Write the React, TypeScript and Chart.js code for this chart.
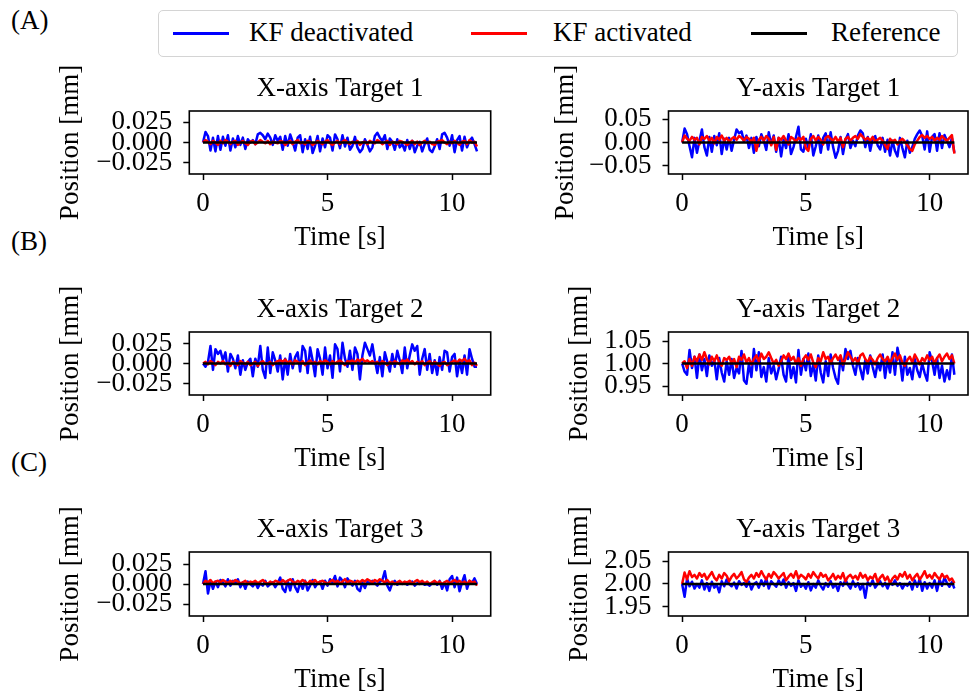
import React, { useEffect, useRef } from 'react';
import { Chart, registerables } from 'chart.js';

Chart.register(...registerables);

const FONT_FAMILY = "'Liberation Serif', 'Times New Roman', serif";

// ---- data ----
const sampleCount = 111; // 0 .. 11 s, sampled every 0.1 s
const time = Array.from({ length: sampleCount }, (_, i) => i / 10);
const xTickValues = [0, 5, 10];
const xTickLabels = ['0', '5', '10'];

const refLevels = [0, 0, 0, 1, 0, 2];

const smallTickValues = [-0.025, 0, 0.025];
const smallTickLabels = ['\u22120.025', '0.000', '0.025'];
const y1TickValues = [-0.05, 0, 0.05];
const y1TickLabels = ['\u22120.05', '0.00', '0.05'];
const y2TickValues = [0.95, 1.0, 1.05];
const y2TickLabels = ['0.95', '1.00', '1.05'];
const y3TickValues = [1.95, 2.0, 2.05];
const y3TickLabels = ['1.95', '2.00', '2.05'];

const x1Blue = [
  0.000, 0.013, 0.008, -0.010, 0.006, -0.011, 0.008, -0.009, 0.007, -0.004,
  0.009, -0.010, 0.005, -0.006, 0.008, -0.003, 0.006, -0.008, 0.004, 0.000,
  0.003, -0.002, 0.010, 0.012, 0.009, 0.004, 0.011, 0.006, -0.003, 0.009,
  0.002, 0.007, -0.009, 0.008, -0.004, 0.010, 0.001, -0.010, 0.006, 0.009,
  -0.012, 0.004, -0.008, 0.007, -0.013, -0.004, 0.008, -0.011, 0.005, -0.006,
  0.009, 0.006, -0.010, 0.010, 0.004, -0.007, 0.009, -0.005, 0.006, -0.009,
  -0.004, 0.007, -0.006, -0.012, -0.008, 0.004, -0.003, -0.011, -0.006, 0.008,
  0.012, 0.006, 0.002, 0.009, -0.008, 0.005, 0.001, -0.009, 0.004, -0.006,
  -0.002, -0.010, 0.003, -0.008, 0.002, -0.012, -0.004, 0.001, -0.011, -0.002,
  0.005, -0.009, -0.012, -0.005, 0.004, -0.008, 0.010, 0.012, 0.006, -0.004,
  0.009, -0.012, 0.003, 0.008, -0.010, 0.007, -0.006, 0.002, 0.006, -0.002,
  -0.011,
];
const x1Red = [
  0.000, 0.003, 0.001, -0.002, 0.002, 0.000, -0.003, 0.002, -0.001, 0.003,
  0.001, -0.002, 0.001, 0.002, -0.003, 0.000, 0.002, -0.001, -0.003, 0.001,
  0.002, -0.002, 0.000, 0.003, 0.001, -0.001, 0.002, -0.002, 0.001, 0.000,
  -0.001, 0.002, 0.001, -0.003, 0.000, 0.002, -0.002, 0.001, 0.003, -0.001,
  0.000, -0.002, 0.002, 0.001, -0.003, -0.001, 0.002, 0.000, -0.002, 0.001,
  0.003, -0.001, -0.003, 0.000, 0.002, -0.002, 0.001, 0.003, 0.000, -0.002,
  0.001, -0.001, 0.002, -0.003, 0.000, 0.001, -0.002, 0.002, 0.000, -0.001,
  0.003, 0.001, -0.002, 0.000, 0.002, -0.003, 0.001, 0.000, -0.002, 0.002,
  0.001, -0.001, -0.003, 0.000, 0.002, -0.002, 0.001, -0.003, 0.000, 0.002,
  -0.001, 0.001, -0.002, -0.003, 0.001, 0.002, 0.003, 0.000, -0.002, 0.001,
  -0.001, 0.002, 0.000, -0.003, 0.001, 0.002, -0.002, 0.003, 0.000, 0.001,
  -0.005,
];

const y1Blue = [
  0.000, 0.030, 0.018, -0.008, -0.032, 0.010, -0.022, 0.004, 0.028, -0.010,
  -0.028, 0.012, -0.020, 0.014, -0.006, 0.020, -0.025, 0.008, -0.015, 0.010,
  -0.018, 0.006, 0.028, 0.020, 0.024, 0.002, 0.015, -0.012, 0.010, -0.022,
  0.012, -0.008, 0.018, 0.004, -0.016, 0.022, -0.004, 0.015, -0.020, 0.010,
  -0.030, 0.006, -0.012, 0.018, -0.025, -0.010, 0.012, 0.034, -0.015, -0.020,
  0.008, -0.012, 0.018, -0.028, -0.008, 0.015, -0.022, 0.010, 0.020, -0.015,
  0.022, -0.010, -0.033, -0.018, 0.012, -0.025, 0.006, 0.018, -0.012, 0.004,
  -0.008, 0.015, 0.026, 0.020, -0.010, 0.012, -0.018, 0.008, 0.014, -0.006,
  -0.015, 0.010, -0.020, 0.006, -0.028, 0.004, -0.018, -0.030, 0.010, -0.012,
  -0.032, 0.004, -0.022, -0.010, 0.008, 0.018, 0.026, 0.014, -0.015, 0.024,
  -0.020, 0.012, 0.018, -0.018, 0.020, -0.012, 0.016, 0.004, -0.010, 0.010,
  -0.022,
];
const y1Red = [
  0.000, 0.015, 0.008, 0.004, 0.012, 0.006, 0.010, -0.004, 0.012, 0.008,
  0.014, 0.004, 0.010, -0.002, 0.012, 0.006, 0.015, 0.004, 0.010, 0.002,
  0.008, 0.012, 0.006, 0.014, 0.010, 0.004, 0.012, 0.008, 0.002, 0.010,
  -0.018, 0.006, 0.012, 0.004, 0.014, 0.008, -0.006, 0.012, -0.016, 0.010,
  0.006, 0.014, 0.004, -0.004, 0.012, 0.008, 0.002, 0.010, 0.006, 0.012,
  -0.012, -0.018, 0.008, 0.014, 0.004, 0.012, 0.006, -0.004, 0.010, 0.014,
  0.008, 0.004, 0.012, 0.002, 0.010, -0.010, 0.008, 0.012, 0.004, 0.010,
  0.014, 0.008, 0.018, 0.012, 0.006, 0.010, 0.004, 0.012, 0.002, 0.006,
  0.010, 0.004, -0.006, -0.014, 0.008, 0.002, 0.006, -0.004, 0.004, 0.008,
  0.002, -0.006, -0.014, -0.018, -0.004, 0.004, 0.012, 0.016, 0.010, 0.014,
  0.008, 0.012, 0.004, 0.010, 0.006, 0.014, 0.008, 0.004, 0.010, 0.016,
  -0.024,
];

const x2Blue = [
  0.000, -0.004, 0.002, 0.022, -0.008, 0.018, 0.012, 0.016, 0.004, 0.014,
  -0.010, 0.012, 0.006, -0.006, 0.010, -0.014, 0.004, -0.008, 0.002, 0.006,
  -0.016, 0.006, -0.004, 0.022, -0.008, -0.018, 0.020, -0.012, 0.014, 0.004,
  -0.010, 0.010, -0.020, 0.006, -0.014, 0.012, -0.006, 0.008, 0.014, -0.010,
  0.022, 0.016, -0.012, 0.020, 0.004, -0.016, 0.018, 0.006, -0.014, 0.020,
  -0.006, 0.010, -0.018, 0.024, 0.018, -0.010, 0.026, 0.006, -0.004, 0.016,
  -0.008, 0.020, 0.012, -0.020, 0.010, 0.026, 0.018, 0.010, 0.024, 0.004,
  -0.012, 0.008, -0.016, 0.014, 0.002, -0.010, 0.012, -0.004, 0.016, 0.004,
  -0.012, 0.020, -0.006, 0.010, 0.024, 0.016, 0.022, -0.014, 0.006, 0.018,
  -0.008, 0.012, -0.012, 0.004, -0.014, 0.008, -0.008, 0.016, 0.014, -0.010,
  0.008, 0.012, -0.016, 0.004, -0.012, 0.010, -0.014, 0.018, 0.006, -0.004,
  -0.004,
];
const x2Red = [
  0.000, 0.002, -0.001, 0.003, 0.001, -0.002, 0.002, 0.000, 0.003, -0.001,
  0.001, -0.003, 0.002, 0.000, -0.002, 0.003, 0.001, -0.001, 0.002, -0.002,
  0.000, 0.002, -0.003, 0.001, 0.003, -0.001, 0.000, 0.002, -0.002, 0.001,
  0.003, 0.004, 0.002, 0.005, 0.001, 0.003, -0.001, 0.004, 0.002, 0.000,
  0.003, -0.002, 0.001, 0.004, 0.000, 0.002, -0.001, 0.003, 0.001, 0.004,
  0.002, -0.001, 0.003, 0.000, 0.002, 0.004, 0.001, -0.002, 0.003, 0.002,
  0.004, 0.001, 0.005, 0.003, 0.006, 0.002, 0.004, 0.001, 0.003, 0.000,
  0.002, -0.001, 0.003, 0.001, -0.002, 0.002, 0.000, 0.003, 0.001, -0.001,
  0.004, 0.002, 0.005, 0.001, 0.003, -0.001, 0.002, 0.000, 0.003, -0.002,
  0.001, 0.003, -0.001, 0.002, 0.000, -0.003, 0.001, 0.002, -0.002, 0.000,
  0.002, 0.004, 0.001, 0.005, 0.003, 0.006, 0.002, 0.004, -0.002, 0.001,
  -0.003,
];

const y2Blue = [
  1.000, 0.982, 0.975, 1.030, 0.990, 1.015, 0.968, 1.020, 0.985, 1.010,
  0.972, 1.018, 0.995, 1.008, 0.965, 1.012, 0.980, 0.960, 1.005, 0.975,
  1.010, 0.968, 0.990, 0.978, 1.028, 0.962, 0.955, 1.000, 0.970, 1.032,
  0.985, 1.025, 0.970, 0.992, 0.960, 1.012, 0.978, 0.995, 0.965, 0.988,
  1.015, 0.975, 0.960, 1.020, 0.968, 0.992, 0.958, 1.030, 0.975, 1.010,
  0.985, 1.022, 0.972, 0.998, 0.962, 1.018, 0.980, 0.958, 1.005, 0.972,
  1.020, 0.990, 0.968, 0.955, 1.015, 0.985, 1.032, 1.010, 1.028, 0.995,
  0.975, 1.012, 0.988, 0.965, 1.008, 0.978, 1.018, 0.992, 0.970, 1.002,
  0.985, 1.020, 0.968, 1.010, 0.980, 1.025, 0.975, 1.035, 1.008, 0.962,
  1.015, 0.975, 0.990, 0.965, 1.010, 0.985, 0.970, 1.000, 0.978, 0.962,
  1.025, 1.005, 0.975, 1.012, 0.968, 0.995, 0.960, 0.985, 0.965, 1.020,
  0.975,
];
const y2Red = [
  1.000, 1.005, 0.990, 1.010, 0.995, 1.015, 1.005, 1.020, 1.008, 1.025,
  1.010, 0.998, 1.015, 1.005, 1.018, 1.002, 0.995, 1.012, 1.008, 1.015,
  1.000, 1.010, 0.992, 1.015, 1.008, 1.020, 1.002, 1.012, 0.998, 1.010,
  1.018, 1.005, 1.022, 1.010, 1.015, 1.025, 1.012, 1.000, 1.008, 0.995,
  1.005, 1.018, 1.010, 1.022, 1.008, 1.015, 1.000, 1.012, 0.995, 1.010,
  1.018, 1.008, 1.020, 1.002, 0.992, 1.012, 1.005, 1.025, 1.010, 1.015,
  1.000, 1.012, 1.020, 1.008, 1.018, 0.998, 1.010, 1.025, 1.015, 1.005,
  1.012, 1.000, 1.018, 1.022, 1.010, 1.002, 1.015, 1.008, 0.998, 1.012,
  1.020, 1.010, 1.005, 1.015, 1.000, 1.012, 1.022, 1.008, 1.018, 1.002,
  0.995, 1.008, 1.015, 1.002, 1.020, 1.010, 0.998, 1.012, 1.005, 1.018,
  1.008, 1.015, 1.000, 1.012, 1.020, 1.005, 1.015, 1.022, 1.010, 1.018,
  1.000,
];

const x3Blue = [
  0.000, 0.016, -0.012, 0.004, -0.006, 0.003, -0.004, 0.005, 0.002, -0.003,
  0.006, -0.002, 0.004, 0.001, 0.006, -0.004, 0.002, -0.006, 0.003, 0.000,
  -0.003, 0.002, -0.005, 0.001, -0.002, 0.004, -0.003, 0.000, 0.002, -0.004,
  0.001, 0.008, -0.006, -0.010, 0.004, -0.008, 0.006, -0.004, -0.010, 0.002,
  -0.006, 0.004, -0.008, -0.002, 0.005, -0.004, 0.001, 0.003, -0.006, 0.004,
  -0.002, 0.006, 0.002, 0.010, -0.003, 0.008, 0.004, -0.004, 0.007, 0.002,
  -0.002, 0.004, -0.006, -0.009, 0.002, -0.005, 0.003, 0.000, 0.004, 0.001,
  -0.002, 0.003, 0.005, 0.016, -0.002, -0.008, 0.001, 0.004, -0.001, 0.002,
  0.000, 0.002, -0.001, 0.001, 0.003, -0.002, 0.001, 0.000, 0.002, -0.001,
  0.000, -0.002, 0.001, 0.003, -0.001, 0.004, -0.006, 0.002, -0.008, 0.006,
  0.010, -0.004, 0.008, -0.009, 0.002, 0.011, -0.006, 0.004, 0.001, 0.007,
  0.000,
];
const x3Red = [
  0.000, 0.004, 0.002, 0.005, 0.001, 0.003, 0.004, 0.002, 0.005, 0.003,
  0.001, 0.004, 0.002, 0.005, 0.003, 0.001, 0.002, 0.004, 0.000, 0.003,
  0.002, 0.004, 0.001, 0.003, 0.005, 0.002, 0.000, 0.003, 0.001, 0.004,
  0.003, 0.001, 0.005, 0.002, 0.004, 0.006, 0.003, 0.001, 0.004, 0.002,
  0.005, 0.003, 0.000, 0.004, 0.002, 0.005, 0.001, 0.003, 0.004, 0.002,
  0.000, 0.003, 0.005, 0.002, 0.004, 0.001, 0.003, 0.006, 0.002, 0.004,
  0.003, 0.001, 0.004, 0.002, 0.005, 0.003, 0.006, 0.004, 0.002, 0.005,
  0.003, 0.006, 0.004, 0.002, 0.005, 0.001, 0.003, 0.000, 0.002, 0.004,
  0.001, 0.003, 0.002, 0.004, 0.000, 0.003, 0.005, 0.002, 0.004, 0.001,
  0.003, 0.000, 0.002, 0.004, 0.001, 0.003, 0.000, 0.002, 0.004, 0.001,
  0.003, 0.005, 0.002, 0.004, 0.001, 0.003, 0.000, 0.004, 0.002, 0.003,
  -0.002,
];

const y3Blue = [
  2.000, 1.972, 2.012, 1.995, 2.005, 1.990, 2.000, 1.992, 2.008, 1.988,
  2.002, 1.985, 2.005, 1.992, 1.998, 1.982, 2.006, 1.995, 2.010, 2.000,
  1.995, 2.003, 1.990, 2.006, 1.998, 2.002, 1.994, 2.005, 1.988, 2.000,
  2.004, 1.992, 2.008, 1.996, 2.012, 1.990, 2.006, 2.000, 1.994, 2.008,
  1.998, 2.010, 1.992, 2.004, 1.996, 2.002, 1.985, 2.008, 1.994, 2.000,
  1.990, 2.004, 1.986, 2.000, 1.992, 2.008, 1.996, 1.988, 2.002, 1.994,
  2.006, 1.992, 2.000, 1.985, 2.004, 1.996, 2.010, 1.998, 1.990, 2.006,
  1.994, 2.002, 1.988, 2.000, 1.970, 2.004, 1.996, 2.008, 1.992, 2.000,
  2.006, 1.995, 2.002, 1.990, 2.004, 1.998, 2.008, 1.996, 2.002, 1.990,
  2.000, 1.996, 2.004, 1.988, 2.008, 1.994, 2.012, 1.985, 2.004, 1.990,
  2.002, 1.992, 2.008, 1.985, 2.010, 1.996, 2.014, 2.002, 1.994, 2.004,
  1.990,
];
const y3Red = [
  2.000, 2.025, 2.010, 2.028, 2.015, 2.020, 2.012, 2.024, 2.016, 2.022,
  2.010, 2.018, 2.026, 2.014, 2.008, 2.020, 2.012, 2.024, 2.018, 2.006,
  2.016, 2.022, 2.012, 2.018, 2.026, 2.010, 2.004, 2.014, 2.020, 2.012,
  2.024, 2.016, 2.028, 2.018, 2.010, 2.022, 2.014, 2.026, 2.020, 2.012,
  2.018, 2.024, 2.008, 2.016, 2.022, 2.014, 2.028, 2.012, 2.020, 2.016,
  2.010, 2.022, 2.014, 2.026, 2.018, 2.012, 2.024, 2.016, 2.020, 2.008,
  2.014, 2.022, 2.010, 2.018, 2.012, 2.024, 2.006, 2.016, 2.020, 2.012,
  2.018, 2.010, 2.024, 2.014, 2.020, 2.008, 2.016, 2.012, 2.022, 2.004,
  2.014, 2.020, 2.008, 2.016, 2.002, 2.012, 2.018, 2.010, 2.022, 2.016,
  2.026, 2.012, 2.020, 2.008, 2.016, 2.022, 2.010, 2.018, 2.028, 2.014,
  2.020, 2.012, 2.024, 2.016, 2.010, 2.022, 2.014, 2.018, 2.008, 2.012,
  2.002,
];

const seriesLabels = ['KF deactivated', 'KF activated', 'Reference'];
const seriesColors = ['#0000ff', '#ff0000', '#000000'];

// ---- layout (not data) ----
const CANVAS_H = 195;
const TITLE_BLOCK = 51;
const FS = 27;
const LINE_W = 2.5;

type PanelCfg = {
  title: string;
  blue: number[];
  red: number[];
  ref: number;
  yMin: number;
  yMax: number;
  tickVals: number[];
  tickLabels: string[];
  left: number;
  top: number;
  width: number;
  chartLeft: number;
  rightPad: number;
  boxH: number;
  yTitleX: number;
};

const panels: PanelCfg[] = [
  { title: 'X-axis Target 1', blue: x1Blue, red: x1Red, ref: refLevels[0], yMin: -0.039, yMax: 0.039,
    tickVals: smallTickValues, tickLabels: smallTickLabels, left: 40, top: 60, width: 460, chartLeft: 149.3, rightPad: 9.3, boxH: 63, yTitleX: 71 },
  { title: 'Y-axis Target 1', blue: y1Blue, red: y1Red, ref: refLevels[1], yMin: -0.068, yMax: 0.068,
    tickVals: y1TickValues, tickLabels: y1TickLabels, left: 518, top: 60, width: 453, chartLeft: 150.5, rightPad: 3, boxH: 63, yTitleX: 565.5 },
  { title: 'X-axis Target 2', blue: x2Blue, red: x2Red, ref: refLevels[2], yMin: -0.0395, yMax: 0.0395,
    tickVals: smallTickValues, tickLabels: smallTickLabels, left: 40, top: 281, width: 460, chartLeft: 149.3, rightPad: 9.3, boxH: 63, yTitleX: 71 },
  { title: 'Y-axis Target 2', blue: y2Blue, red: y2Red, ref: refLevels[3], yMin: 0.93, yMax: 1.07,
    tickVals: y2TickValues, tickLabels: y2TickLabels, left: 518, top: 281, width: 453, chartLeft: 150.5, rightPad: 3, boxH: 63, yTitleX: 579.5 },
  { title: 'X-axis Target 3', blue: x3Blue, red: x3Red, ref: refLevels[4], yMin: -0.04, yMax: 0.04,
    tickVals: smallTickValues, tickLabels: smallTickLabels, left: 40, top: 501, width: 460, chartLeft: 149.3, rightPad: 9.3, boxH: 64, yTitleX: 71 },
  { title: 'Y-axis Target 3', blue: y3Blue, red: y3Red, ref: refLevels[5], yMin: 1.93, yMax: 2.07,
    tickVals: y3TickValues, tickLabels: y3TickLabels, left: 518, top: 501, width: 453, chartLeft: 150.5, rightPad: 3, boxH: 64, yTitleX: 579.5 },
];

const framePlugin = {
  id: 'frame',
  afterDraw(chart: any) {
    const { ctx, chartArea: a } = chart;
    ctx.save();
    ctx.strokeStyle = '#000';
    ctx.lineWidth = 1.6;
    ctx.strokeRect(a.left, a.top, a.right - a.left, a.bottom - a.top);
    ctx.restore();
  },
};

function Panel({ cfg }: { cfg: PanelCfg }) {
  const ref = useRef<HTMLCanvasElement | null>(null);
  useEffect(() => {
    if (!ref.current) return;
    const font = { family: FONT_FAMILY, size: FS, weight: 'normal' as const, lineHeight: 1.2 };
    const xH = CANVAS_H - TITLE_BLOCK - cfg.boxH;
    const xTitlePad = Math.max(0, CANVAS_H - (TITLE_BLOCK + cfg.boxH + 64) - FS * 0.6);
    const yTitlePad = cfg.yTitleX - cfg.left - FS * 0.6;
    const chart = new Chart(ref.current, {
      type: 'line',
      data: {
        datasets: [
          {
            label: seriesLabels[0],
            data: cfg.blue.map((v, i) => ({ x: time[i], y: v })),
            borderColor: seriesColors[0],
            borderWidth: LINE_W,
            pointRadius: 0,
            tension: 0,
            borderJoinStyle: 'round',
            order: 3,
          },
          {
            label: seriesLabels[1],
            data: cfg.red.map((v, i) => ({ x: time[i], y: v })),
            borderColor: seriesColors[1],
            borderWidth: LINE_W,
            pointRadius: 0,
            tension: 0,
            borderJoinStyle: 'round',
            order: 2,
          },
          {
            label: seriesLabels[2],
            data: [
              { x: time[0], y: cfg.ref },
              { x: time[time.length - 1], y: cfg.ref },
            ],
            borderColor: seriesColors[2],
            borderWidth: LINE_W,
            pointRadius: 0,
            order: 1,
          },
        ],
      },
      options: {
        animation: false,
        responsive: false,
        events: [],
        layout: { padding: { left: 0, right: cfg.rightPad, top: 0, bottom: 0 } },
        plugins: {
          legend: { display: false },
          tooltip: { enabled: false },
          title: {
            display: true,
            text: cfg.title,
            color: '#000',
            font,
            fullSize: false,
            padding: { top: 12.8, bottom: TITLE_BLOCK - 12.8 - FS * 1.2 },
          },
        },
        scales: {
          x: {
            type: 'linear',
            min: -0.55,
            max: 11.55,
            afterBuildTicks: (s: any) => {
              s.ticks = xTickValues.map((v) => ({ value: v }));
            },
            afterFit: (s: any) => {
              s.height = xH;
            },
            ticks: {
              color: '#000',
              font,
              padding: 8,
              maxRotation: 0,
              autoSkip: false,
              callback: (v: any) => xTickLabels[xTickValues.indexOf(Number(v))] ?? '',
            },
            grid: { drawOnChartArea: false, drawTicks: true, tickLength: 6, tickColor: '#000', tickWidth: 1.5 },
            border: { display: false },
            title: { display: true, text: 'Time [s]', color: '#000', font, padding: { top: 0, bottom: xTitlePad } },
          },
          y: {
            type: 'linear',
            min: cfg.yMin,
            max: cfg.yMax,
            afterBuildTicks: (s: any) => {
              s.ticks = cfg.tickVals.map((v) => ({ value: v }));
            },
            afterFit: (s: any) => {
              s.width = cfg.chartLeft;
            },
            ticks: {
              color: '#000',
              font,
              padding: 11,
              autoSkip: false,
              callback: (v: any) => {
                const idx = cfg.tickVals.findIndex((t) => Math.abs(t - Number(v)) < 1e-9);
                return idx >= 0 ? cfg.tickLabels[idx] : '';
              },
            },
            grid: { drawOnChartArea: false, drawTicks: true, tickLength: 6, tickColor: '#000', tickWidth: 1.5 },
            border: { display: false },
            title: { display: true, text: 'Position [mm]', color: '#000', font, padding: { top: yTitlePad, bottom: 0 } },
          },
        },
      },
      plugins: [framePlugin],
    } as any);
    return () => chart.destroy();
  }, [cfg]);
  return (
    <canvas
      ref={ref}
      width={cfg.width}
      height={CANVAS_H}
      style={{ position: 'absolute', left: cfg.left, top: cfg.top, width: cfg.width, height: CANVAS_H }}
    />
  );
}

const textStyle: React.CSSProperties = {
  position: 'absolute',
  fontFamily: FONT_FAMILY,
  fontSize: FS,
  lineHeight: '32px',
  color: '#000',
  whiteSpace: 'nowrap',
};

export default function App() {
  const legendItems = [
    { lineLeft: 14, textLeft: 90 },
    { lineLeft: 312, textLeft: 394 },
    { lineLeft: 592, textLeft: 672 },
  ];
  return (
    <div
      style={{
        position: 'fixed',
        left: 0,
        top: 0,
        width: 971,
        height: 694,
        overflow: 'hidden',
        background: '#fff',
      }}
    >
      <div style={{ ...textStyle, left: 11, top: 4 }}>(A)</div>
      <div style={{ ...textStyle, left: 11, top: 225 }}>(B)</div>
      <div style={{ ...textStyle, left: 11, top: 446 }}>(C)</div>
      <div
        style={{
          position: 'absolute',
          left: 158,
          top: 10,
          width: 800,
          height: 47,
          boxSizing: 'border-box',
          border: '1.5px solid #d4d4d4',
          borderRadius: 5,
          background: '#fff',
        }}
      >
        {legendItems.map((it, i) => (
          <React.Fragment key={i}>
            <div
              style={{
                position: 'absolute',
                left: it.lineLeft,
                top: 21,
                width: 56,
                height: LINE_W,
                background: seriesColors[i],
              }}
            />
            <div style={{ ...textStyle, left: it.textLeft, top: 5 }}>{seriesLabels[i]}</div>
          </React.Fragment>
        ))}
      </div>
      {panels.map((p, i) => (
        <Panel key={i} cfg={p} />
      ))}
    </div>
  );
}
